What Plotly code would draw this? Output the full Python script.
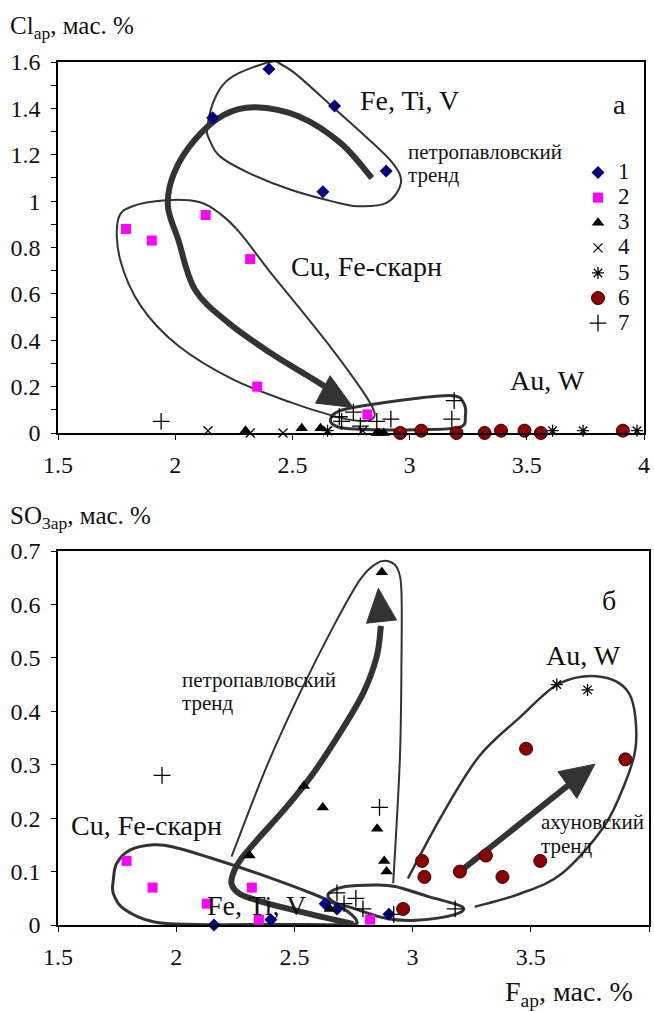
import plotly.graph_objects as go
from plotly.subplots import make_subplots

FONT = "Liberation Serif, Times New Roman, serif"
W, H = 654, 1011

# ---------------- data: panel a (Cl vs F) ----------------
a1_x = [2.40, 2.68, 2.16, 2.90, 2.63]
a1_y = [1.57, 1.41, 1.36, 1.13, 1.04]
a2_x = [1.79, 1.90, 2.13, 2.32, 2.35, 2.82]
a2_y = [0.88, 0.83, 0.94, 0.75, 0.20, 0.08]
a3_x = [2.30, 2.54, 2.62, 2.86, 2.87, 2.89]
a3_y = [0.01, 0.02, 0.02, 0.00, 0.00, 0.00]
a4_x = [2.14, 2.32, 2.46, 2.65, 2.80]
a4_y = [0.01, 0.00, 0.00, 0.01, 0.01]
a5_x = [2.65, 3.61, 3.74, 3.97]
a5_y = [0.01, 0.01, 0.01, 0.01]
a6_x = [2.96, 3.05, 3.20, 3.32, 3.39, 3.49, 3.56, 3.91]
a6_y = [0.00, 0.01, 0.00, 0.00, 0.01, 0.01, 0.00, 0.01]
a7_x = [1.94, 2.70, 2.71, 2.76, 2.79, 2.86, 2.92, 3.18, 3.19]
a7_y = [0.05, 0.07, 0.05, 0.09, 0.03, 0.05, 0.06, 0.06, 0.14]

# ---------------- data: panel б (SO3 vs F) ----------------
b1_x = [2.16, 2.40, 2.63, 2.68, 2.90]
b1_y = [0.00, 0.01, 0.04, 0.03, 0.02]
b2_x = [1.79, 1.90, 2.13, 2.32, 2.35, 2.82]
b2_y = [0.12, 0.07, 0.04, 0.07, 0.01, 0.01]
b3_x = [2.87, 2.54, 2.62, 2.85, 2.88, 2.89, 2.31, 2.65]
b3_y = [0.66, 0.26, 0.22, 0.18, 0.12, 0.10, 0.13, 0.03]
b5_x = [3.61, 3.74]
b5_y = [0.45, 0.44]
b6_x = [2.96, 3.04, 3.05, 3.20, 3.31, 3.38, 3.48, 3.54, 3.90]
b6_y = [0.03, 0.12, 0.09, 0.10, 0.13, 0.09, 0.33, 0.12, 0.31]
b7_x = [1.94, 2.86, 2.68, 2.71, 2.76, 2.79, 2.92, 3.18]
b7_y = [0.28, 0.22, 0.06, 0.04, 0.05, 0.03, 0.02, 0.03]

legend_names = ["1", "2", "3", "4", "5", "6", "7"]

# marker styles per series
STY = {
    "1": dict(symbol="diamond", color="#000080", size=10, line=dict(width=0)),
    "2": dict(symbol="square", color="#FF00FF", size=10, line=dict(width=0)),
    "3": dict(symbol="triangle-up", color="#000000", size=11, line=dict(width=0)),
    "4": dict(symbol="x-thin-open", color="#000000", size=9, line=dict(width=1.3, color="#000000")),
    "5": dict(symbol="asterisk-open", color="#000000", size=10, line=dict(width=1.3, color="#000000")),
    "6": dict(symbol="circle", color="#8B0000", size=13, line=dict(width=1, color="#3a0000")),
    "7": dict(symbol="cross-thin-open", color="#000000", size=12, line=dict(width=1.3, color="#000000")),
}

fig = make_subplots(rows=2, cols=1)

top = [(a1_x, a1_y), (a2_x, a2_y), (a3_x, a3_y), (a4_x, a4_y), (a5_x, a5_y), (a6_x, a6_y), (a7_x, a7_y)]
for name, (xs, ys) in zip(legend_names, top):
    fig.add_trace(go.Scatter(x=xs, y=ys, mode="markers",
                             name="<span style='font-size:23px'>%s</span>" % name,
                             marker=STY[name], cliponaxis=False, showlegend=True), row=1, col=1)

bot = {"1": (b1_x, b1_y), "2": (b2_x, b2_y), "3": (b3_x, b3_y), "5": (b5_x, b5_y),
       "6": (b6_x, b6_y), "7": (b7_x, b7_y)}
for name, (xs, ys) in bot.items():
    fig.add_trace(go.Scatter(x=xs, y=ys, mode="markers", name=name, marker=STY[name],
                             cliponaxis=False, showlegend=False), row=2, col=1)


# ---------------- outlines / arrows (annotation geometry) ----------------
def smooth_path(pts, closed=True):
    n = len(pts)
    if closed:
        get = lambda i: pts[i % n]
        segs = n
    else:
        get = lambda i: pts[min(max(i, 0), n - 1)]
        segs = n - 1
    d = "M%.4f,%.4f" % pts[0]
    for i in range(segs):
        p0, p1, p2, p3 = get(i - 1), get(i), get(i + 1), get(i + 2)
        c1 = (p1[0] + (p2[0] - p0[0]) / 6, p1[1] + (p2[1] - p0[1]) / 6)
        c2 = (p2[0] - (p3[0] - p1[0]) / 6, p2[1] - (p3[1] - p1[1]) / 6)
        d += " C%.4f,%.4f %.4f,%.4f %.4f,%.4f" % (c1 + c2 + p2)
    if closed:
        d += " Z"
    return d


def tri_path(pts):
    return "M%.4f,%.4f L%.4f,%.4f L%.4f,%.4f Z" % (pts[0] + pts[1] + pts[2])


LC = "#333333"

# panel a
a_fetiv = [(2.404, 1.600), (2.244, 1.537), (2.173, 1.451), (2.137, 1.322), (2.146, 1.265),
           (2.191, 1.193), (2.315, 1.121), (2.493, 1.049), (2.670, 0.999), (2.777, 0.978),
           (2.901, 0.992), (2.963, 1.078), (2.928, 1.164), (2.812, 1.279), (2.670, 1.408),
           (2.528, 1.537), (2.457, 1.587)]
a_cufe = [(1.756, 0.920), (1.818, 0.978), (1.960, 1.004), (2.102, 0.996), (2.191, 0.946),
          (2.279, 0.860), (2.400, 0.700), (2.493, 0.585), (2.670, 0.361), (2.794, 0.189),
          (2.848, 0.096), (2.839, 0.060), (2.777, 0.053), (2.670, 0.075), (2.493, 0.132),
          (2.244, 0.232), (2.013, 0.376), (1.853, 0.548), (1.765, 0.748)]
a_auw = [(2.688, 0.089), (2.759, 0.110), (3.025, 0.149), (3.185, 0.161), (3.229, 0.132),
         (3.238, 0.075), (3.212, 0.024), (3.025, 0.014), (2.848, 0.014), (2.723, 0.020),
         (2.670, 0.039), (2.665, 0.067)]
a_arrow = [(2.839, 1.100), (2.706, 1.250), (2.528, 1.365), (2.342, 1.405), (2.208, 1.372),
           (2.084, 1.265), (1.995, 1.121), (1.969, 0.978), (2.013, 0.834), (2.084, 0.619),
           (2.226, 0.476), (2.404, 0.347), (2.560, 0.250), (2.640, 0.200)]
a_head = [(2.661, 0.247), (2.759, 0.110), (2.599, 0.129)]

# panel b
b_petro = [(2.234, 0.128), (2.382, 0.296), (2.523, 0.434), (2.664, 0.558), (2.777, 0.646),
           (2.848, 0.677), (2.904, 0.680), (2.939, 0.664), (2.953, 0.621), (2.953, 0.496),
           (2.946, 0.309), (2.918, 0.078)]
b_arrow = [(2.749, 0.002), (2.580, 0.019), (2.382, 0.041), (2.270, 0.058), (2.234, 0.077),
           (2.245, 0.101), (2.275, 0.124), (2.354, 0.165), (2.467, 0.221), (2.580, 0.284),
           (2.692, 0.359), (2.791, 0.434), (2.848, 0.502), (2.866, 0.560)]
b_head = [(2.805, 0.565), (2.855, 0.630), (2.932, 0.571)]
b_cufe = [(1.734, 0.084), (1.748, 0.115), (1.804, 0.140), (1.903, 0.150), (1.988, 0.146),
          (2.157, 0.124), (2.368, 0.093), (2.580, 0.058), (2.700, 0.033), (2.763, 0.008),
          (2.721, 0.001), (2.439, 0.001), (2.086, 0.001), (1.903, 0.006), (1.776, 0.031),
          (1.734, 0.059)]
b_auw = [(2.645, 0.059), (2.716, 0.072), (2.839, 0.075), (2.927, 0.072), (3.068, 0.053),
         (3.210, 0.034), (3.174, 0.019), (3.016, 0.009), (2.892, 0.012), (2.751, 0.031),
         (2.663, 0.044)]
b_ahun = [(2.980, 0.087), (3.121, 0.203), (3.280, 0.315), (3.457, 0.390), (3.598, 0.446),
          (3.721, 0.465), (3.845, 0.459), (3.915, 0.434), (3.942, 0.390), (3.942, 0.328),
          (3.898, 0.265), (3.809, 0.184), (3.633, 0.097), (3.457, 0.059), (3.263, 0.034)]
b_arrow2 = [(3.192, 0.097), (3.686, 0.271)]
b_head2 = [(3.615, 0.287), (3.771, 0.301), (3.695, 0.237)]

shapes = []


def add_line(pts, closed, width, xr, yr):
    shapes.append(dict(type="path", path=smooth_path(pts, closed), xref=xr, yref=yr,
                       line=dict(color=LC, width=width), fillcolor="rgba(0,0,0,0)", layer="below"))


def add_tri(pts, xr, yr):
    shapes.append(dict(type="path", path=tri_path(pts), xref=xr, yref=yr,
                       line=dict(color=LC, width=1), fillcolor=LC, layer="below"))


add_line(a_fetiv, True, 2, "x", "y")
add_line(a_cufe, True, 2, "x", "y")
add_line(a_auw, True, 3, "x", "y")
add_line(a_arrow, False, 6, "x", "y")
add_tri(a_head, "x", "y")

add_line(b_petro, False, 2, "x2", "y2")
add_line(b_cufe, True, 3, "x2", "y2")
add_line(b_auw, True, 3, "x2", "y2")
add_line(b_arrow, False, 6, "x2", "y2")
add_tri(b_head, "x2", "y2")
add_line(b_ahun, False, 2.5, "x2", "y2")
add_line(b_arrow2, False, 6, "x2", "y2")
add_tri(b_head2, "x2", "y2")

# ---------------- texts ----------------
def px(x):
    return x / W


def py(y):
    return 1 - y / H


texts = [
    # (text, x, y, size, xanchor)
    ("Cl<sub>ар</sub>, мас. %", 8, 27, 25, "left"),
    ("Fe, Ti, V", 409, 100, 28, "center"),
    ("а", 619, 104, 28, "center"),
    ("петропавловский", 406, 152, 21, "left"),
    ("тренд", 406, 175, 21, "left"),
    ("Cu, Fe-скарн", 366, 266, 28, "center"),
    ("Au, W", 547, 380, 28, "center"),
    ("SO<sub>3ар</sub>, мас. %", 8, 517, 25, "left"),
    ("б", 609, 600, 28, "center"),
    ("Au, W", 583, 655, 28, "center"),
    ("петропавловский", 180, 680, 21, "left"),
    ("тренд", 180, 703, 21, "left"),
    ("Cu, Fe-скарн", 146, 825, 28, "center"),
    ("Fe, Ti, V", 256, 905, 28, "center"),
    ("ахуновский", 539, 822, 21, "left"),
    ("тренд", 539, 846, 21, "left"),
    ("F<sub>ар</sub>, мас. %", 503, 993, 28, "left"),
]
annotations = []
for t, x, y, s, xa in texts:
    annotations.append(dict(text=t, x=px(x), y=py(y), xref="paper", yref="paper",
                            xanchor=xa, yanchor="middle", showarrow=False,
                            font=dict(family=FONT, size=s, color="#111111")))

axis_common = dict(showline=True, linecolor="#000000", linewidth=1.5, mirror=True,
                   showgrid=False, zeroline=False, ticks="outside", ticklen=5,
                   tickcolor="#000000", tickwidth=1, automargin=False,
                   tickfont=dict(family=FONT, size=24, color="#111111"))

fig.update_layout(
    width=W, height=H, margin=dict(l=0, r=0, t=0, b=0, autoexpand=False),
    paper_bgcolor="white", plot_bgcolor="white",
    font=dict(family=FONT, color="#111111"),
    shapes=shapes, annotations=annotations,
    showlegend=True,
    legend=dict(x=px(578), y=py(155), xanchor="left", yanchor="top",
                font=dict(family=FONT, size=17, color="#111111"),
                bgcolor="rgba(0,0,0,0)", tracegroupgap=0, itemwidth=30),
    xaxis=dict(domain=[px(58), px(644)], range=[1.5, 4], dtick=0.5, tick0=1.5, anchor="y",
               ticklabelstandoff=4, **axis_common),
    yaxis=dict(domain=[py(433), py(62)], range=[0, 1.6], dtick=0.2, anchor="x",
               ticklabelstandoff=6,
               minor=dict(dtick=0.1, ticks="outside", ticklen=5, tickcolor="#000000"),
               **axis_common),
    xaxis2=dict(domain=[px(58), px(649)], range=[1.5, 4], dtick=0.5, tick0=1.5, anchor="y2",
                ticklabelstandoff=4, **axis_common),
    yaxis2=dict(domain=[py(925), py(551)], range=[0, 0.7], dtick=0.1, anchor="x2",
                ticklabelstandoff=6, **axis_common),
)

fig.write_html("out.html", config={"displayModeBar": False},
               post_script="document.body.style.margin='0';")
